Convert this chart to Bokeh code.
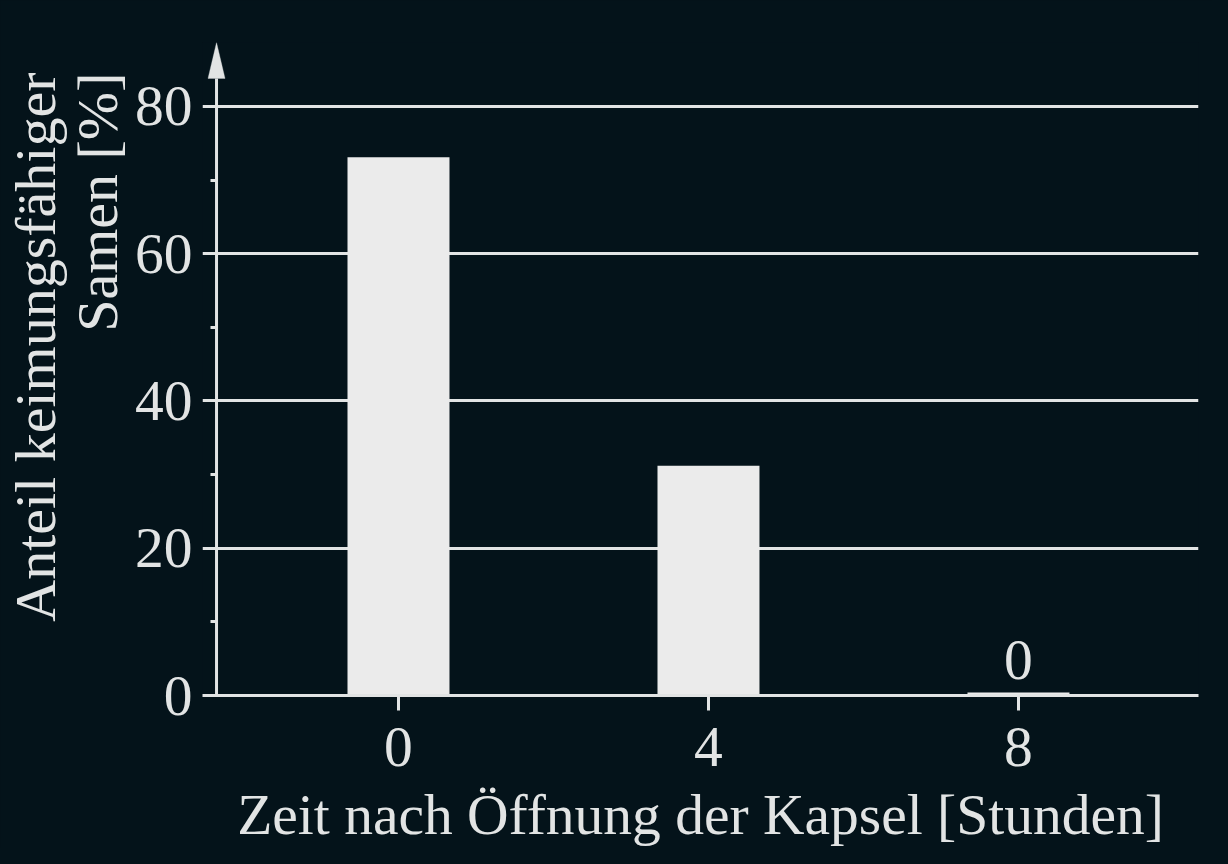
from bokeh.plotting import figure
from bokeh.models import FixedTicker, Range1d, PolyAnnotation, ColumnDataSource, Title
from bokeh.core.properties import value
from bokeh.embed import file_html
from bokeh.resources import INLINE

# ---- data ----
hours = [0, 4, 8]
germinable_pct = [73.1, 31.2, 0.4]
bar_labels = ["", "", "0"]
x_ticks = [0, 4, 8]
y_ticks = [0, 20, 40, 60, 80]
y_minor = [10, 30, 50, 70]
x_title = "Zeit nach Öffnung der Kapsel [Stunden]"
y_title_lines = ["Anteil keimungsfähiger", "Samen [%]"]

BG = "#04131a"
FG = "#e2e4e4"
BAR = "#ebebeb"
FONT = "Liberation Serif"
FS = "57.5px"
FS_Y = "58px"

x0, x1 = -2.529, 10.323     # frame extent (frame starts where the y ticks end)
y_axis_x = -2.348           # where the drawn y axis line sits
y0, y1 = 0, 88.68
axis_top = 83.8

p = figure(width=1212, height=848, output_backend="svg", toolbar_location=None,
           x_range=Range1d(x0, x1), y_range=Range1d(y0, y1),
           title_location=None,
           min_border_left=202, min_border_right=14, min_border_top=42, min_border_bottom=152)
p.background_fill_color = BG
p.border_fill_color = BG
p.outline_line_color = None

src = ColumnDataSource(dict(x=hours, top=germinable_pct, lab=bar_labels))
p.vbar(x="x", top="top", width=1.316, bottom=0, source=src, fill_color=BAR, line_color=None)
p.text(x="x", y="top", text="lab", source=src, text_align="center", text_baseline="bottom",
       y_offset=-14, text_font=value(FONT), text_font_size=FS, text_color=FG)

# visible y axis line with arrow head
p.segment(x0=[y_axis_x], y0=[0], x1=[y_axis_x], y1=[axis_top], line_color=FG, line_width=3)
dx = 0.11
p.add_layout(PolyAnnotation(xs=[y_axis_x - dx, y_axis_x, y_axis_x + dx], ys=[axis_top, y1, axis_top],
                            fill_color=FG, fill_alpha=1.0, line_color=FG, line_width=1))

# x axis
xa = p.xaxis[0]
xa.ticker = FixedTicker(ticks=x_ticks)
xa.major_tick_in = 0
xa.major_tick_out = 15
xa.minor_tick_out = 0
xa.minor_tick_in = 0
xa.axis_line_width = 3
xa.axis_line_color = FG
xa.major_tick_line_width = 3
xa.major_tick_line_color = FG
xa.major_label_text_font = FONT
xa.major_label_text_font_size = FS
xa.major_label_text_color = FG
xa.major_label_standoff = 17
xa.axis_label = x_title
xa.axis_label_text_font = FONT
xa.axis_label_text_font_size = FS
xa.axis_label_text_font_style = "normal"
xa.axis_label_text_color = FG
xa.axis_label_standoff = 14

# y axis (labels + minor ticks reaching the drawn axis line)
ya = p.yaxis[0]
ya.ticker = FixedTicker(ticks=y_ticks, minor_ticks=y_minor)
ya.axis_line_color = None
ya.major_tick_in = 0
ya.major_tick_out = 0
ya.minor_tick_in = 14
ya.minor_tick_out = -8
ya.minor_tick_line_width = 3
ya.minor_tick_line_color = FG
ya.major_label_text_font = FONT
ya.major_label_text_font_size = FS
ya.major_label_text_color = FG
ya.major_label_standoff = 10

# two-line y title, each line top-aligned (inner line added first)
standoffs = {y_title_lines[1]: 3, y_title_lines[0]: -12}
for t in reversed(y_title_lines):
    p.add_layout(Title(text=t, align="right", offset=30, standoff=standoffs[t],
                       text_font=FONT, text_font_size=FS_Y, text_font_style="normal",
                       text_color=FG), "left")

p.xgrid.visible = False
p.ygrid.ticker = FixedTicker(ticks=y_ticks[1:])
p.ygrid.grid_line_color = FG
p.ygrid.grid_line_width = 3

html = file_html(p, INLINE)
html = html.replace("</head>", "<style>html, body { background-color: %s; }</style></head>" % BG, 1)
open("out.html", "w").write(html)
